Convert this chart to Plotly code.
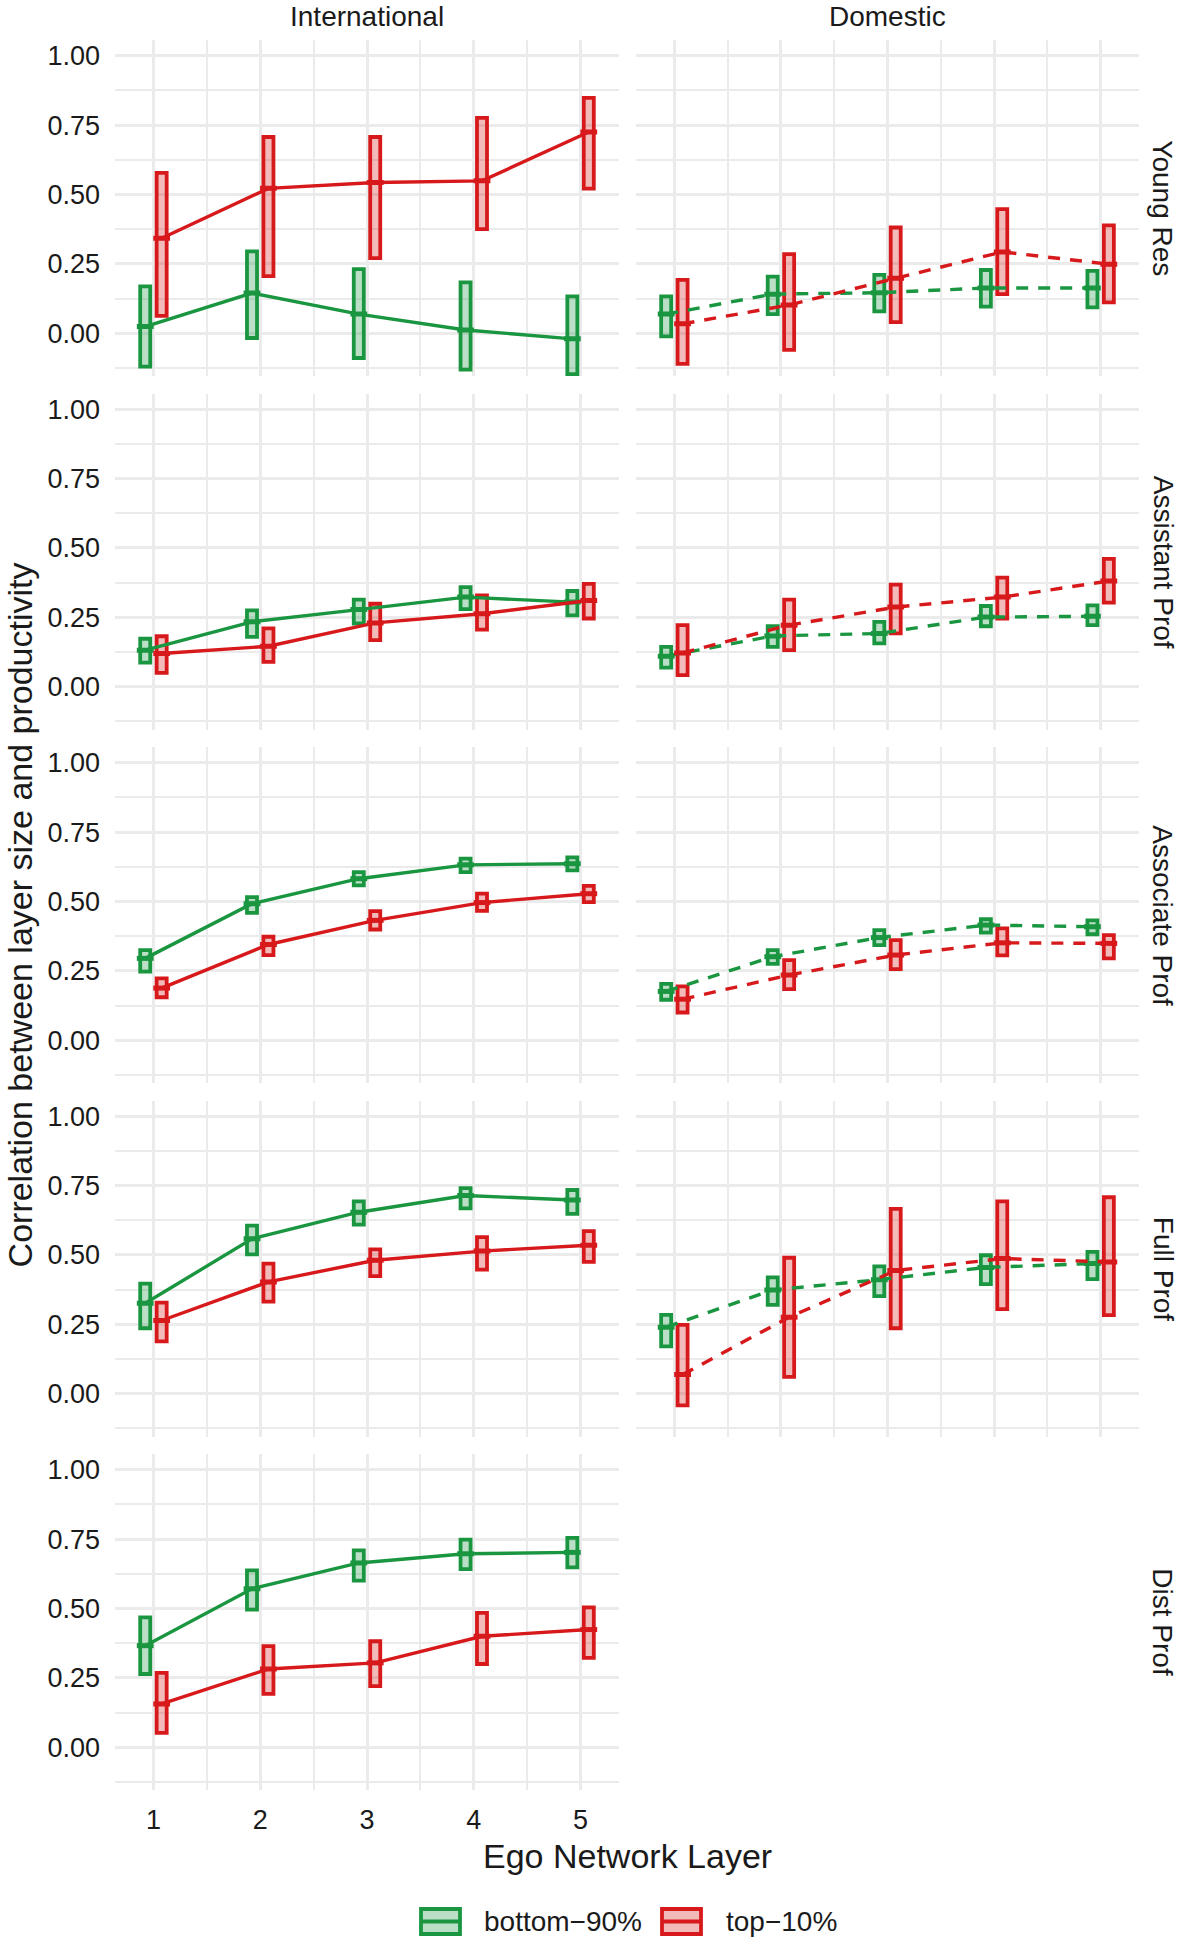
import plotly.graph_objects as go

# ---------------- data ----------------
layers = [1, 2, 3, 4, 5]
ranks = ["Young Res", "Assistant Prof", "Associate Prof", "Full Prof", "Dist Prof"]
scopes = ["International", "Domestic"]
groups = ["bottom−90%", "top−10%"]

# International, bottom-90% (rows = ranks, cols = layers)
int_bottom_mean = [[0.024, 0.145, 0.069, 0.012, -0.020],
                   [0.132, 0.234, 0.278, 0.323, 0.305],
                   [0.295, 0.492, 0.582, 0.632, 0.636],
                   [0.326, 0.558, 0.654, 0.714, 0.698],
                   [0.366, 0.571, 0.664, 0.697, 0.702]]
int_bottom_lo = [[-0.120, -0.017, -0.089, -0.131, -0.147],
                 [0.087, 0.180, 0.228, 0.280, 0.257],
                 [0.247, 0.459, 0.558, 0.606, 0.612],
                 [0.236, 0.502, 0.609, 0.668, 0.648],
                 [0.264, 0.496, 0.600, 0.642, 0.648]]
int_bottom_hi = [[0.169, 0.295, 0.231, 0.183, 0.133],
                 [0.173, 0.275, 0.314, 0.359, 0.345],
                 [0.325, 0.516, 0.606, 0.654, 0.659],
                 [0.397, 0.606, 0.693, 0.741, 0.734],
                 [0.468, 0.637, 0.709, 0.748, 0.754]]

# International, top-10%
int_top_mean = [[0.342, 0.522, 0.543, 0.549, 0.725],
                [0.120, 0.146, 0.230, 0.263, 0.311],
                [0.188, 0.345, 0.432, 0.496, 0.528],
                [0.264, 0.403, 0.481, 0.514, 0.535],
                [0.156, 0.282, 0.304, 0.400, 0.424]]
int_top_lo = [[0.063, 0.206, 0.271, 0.375, 0.521],
              [0.050, 0.090, 0.168, 0.206, 0.246],
              [0.155, 0.307, 0.399, 0.466, 0.498],
              [0.189, 0.332, 0.424, 0.447, 0.475],
              [0.052, 0.192, 0.220, 0.300, 0.322]]
int_top_hi = [[0.578, 0.707, 0.707, 0.776, 0.848],
              [0.182, 0.210, 0.299, 0.329, 0.371],
              [0.223, 0.373, 0.465, 0.528, 0.556],
              [0.328, 0.469, 0.520, 0.564, 0.586],
              [0.268, 0.364, 0.382, 0.484, 0.504]]

# Domestic, bottom-90% (no Dist Prof data)
dom_bottom_mean = [[0.069, 0.141, 0.146, 0.163, 0.163],
                   [0.110, 0.183, 0.192, 0.251, 0.254],
                   [0.176, 0.301, 0.370, 0.415, 0.409],
                   [0.240, 0.374, 0.411, 0.455, 0.469],
                   []]
dom_bottom_lo = [[-0.011, 0.069, 0.079, 0.096, 0.093],
                 [0.069, 0.144, 0.156, 0.218, 0.222],
                 [0.146, 0.275, 0.343, 0.388, 0.382],
                 [0.171, 0.320, 0.352, 0.395, 0.413],
                 []]
dom_bottom_hi = [[0.133, 0.204, 0.210, 0.228, 0.225],
                 [0.144, 0.218, 0.234, 0.291, 0.293],
                 [0.203, 0.325, 0.397, 0.436, 0.432],
                 [0.284, 0.419, 0.459, 0.499, 0.511],
                 []]

# Domestic, top-10%
dom_top_mean = [[0.034, 0.102, 0.198, 0.293, 0.249],
                [0.122, 0.222, 0.287, 0.323, 0.381],
                [0.148, 0.235, 0.307, 0.351, 0.349],
                [0.069, 0.276, 0.444, 0.487, 0.475],
                []]
dom_top_lo = [[-0.110, -0.060, 0.040, 0.141, 0.111],
              [0.042, 0.132, 0.192, 0.246, 0.303],
              [0.100, 0.184, 0.256, 0.306, 0.295],
              [-0.042, 0.061, 0.236, 0.305, 0.283],
              []]
dom_top_hi = [[0.192, 0.285, 0.381, 0.447, 0.389],
              [0.222, 0.314, 0.368, 0.393, 0.461],
              [0.194, 0.289, 0.361, 0.403, 0.379],
              [0.248, 0.490, 0.666, 0.693, 0.708],
              []]

y_tickvals = [0.0, 0.25, 0.5, 0.75, 1.0]
y_ticktext = ["0.00", "0.25", "0.50", "0.75", "1.00"]

# ---------------- style ----------------
FW, FH = 1184, 1940
FONT = "Liberation Sans, Arial, Helvetica, sans-serif"
TXT = "#1a1a1a"
GRID = "#ebebeb"
COLORS = ["#1a9641", "#d7191c"]
FILLS = ["rgba(26,150,65,0.3)", "rgba(215,25,28,0.3)"]
DODGE = [-0.077, 0.077]
BOXW = 0.094
X0 = [115, 636]
X1 = [619, 1139]
TOP0, PITCH, PH = 40.4, 353.5, 335.9
XR = [0.64, 5.36]
YR = [-0.155, 1.055]


def px(x):
    return x / FW


def py(y):
    return 1 - y / FH


data_sets = {
    (0, 0): (int_bottom_mean, int_bottom_lo, int_bottom_hi),
    (0, 1): (int_top_mean, int_top_lo, int_top_hi),
    (1, 0): (dom_bottom_mean, dom_bottom_lo, dom_bottom_hi),
    (1, 1): (dom_top_mean, dom_top_lo, dom_top_hi),
}

fig = go.Figure()
layout = dict(
    width=FW, height=FH, autosize=False,
    margin=dict(l=0, r=0, t=0, b=0, pad=0),
    paper_bgcolor="white", plot_bgcolor="white",
    barmode="overlay", showlegend=False,
    font=dict(family=FONT, color=TXT, size=27),
)

annotations = []
shapes = []

for r, rank in enumerate(ranks):
    top = TOP0 + PITCH * r
    ydom = [py(top + PH), py(top)]
    for c, scope in enumerate(scopes):
        k = r * 2 + c + 1
        xs = "" if k == 1 else str(k)
        layout["xaxis" + xs] = dict(
            domain=[px(X0[c]), px(X1[c])], anchor="y" + xs, range=XR,
            tickvals=layers, showticklabels=(r == len(ranks) - 1),
            showgrid=True, gridcolor=GRID, gridwidth=3, zeroline=False,
            showline=False, ticks="", ticklabelstandoff=11,
            tickfont=dict(size=27, color=TXT, family=FONT),
            minor=dict(tickvals=[1.5, 2.5, 3.5, 4.5], showgrid=True,
                       gridcolor=GRID, gridwidth=1.6),
        )
        layout["yaxis" + xs] = dict(
            domain=ydom, anchor="x" + xs, range=YR,
            tickvals=y_tickvals, ticktext=y_ticktext,
            showticklabels=(c == 0),
            showgrid=True, gridcolor=GRID, gridwidth=3, zeroline=False,
            showline=False, ticks="", ticklabelstandoff=14,
            tickfont=dict(size=27, color=TXT, family=FONT),
            minor=dict(tickvals=[-0.125, 0.125, 0.375, 0.625, 0.875],
                       showgrid=True, gridcolor=GRID, gridwidth=1.6),
        )
        # boxes (crossbar bodies)
        for g in range(2):
            mean, lo, hi = (a[r] for a in data_sets[(c, g)])
            if not mean:
                continue
            fig.add_trace(go.Bar(
                x=layers, base=lo, y=[h - l for h, l in zip(hi, lo)],
                width=BOXW, offset=DODGE[g] - BOXW / 2,
                marker=dict(color=FILLS[g], line=dict(color=COLORS[g], width=3.8)),
                name=groups[g], showlegend=False, hoverinfo="skip",
                xaxis="x" + xs, yaxis="y" + xs,
            ))
        # connecting lines and crossbar middles
        for g in range(2):
            mean, lo, hi = (a[r] for a in data_sets[(c, g)])
            if not mean:
                continue
            fig.add_trace(go.Scatter(
                x=[l + DODGE[g] for l in layers], y=mean,
                mode="lines+markers",
                line=dict(color=COLORS[g], width=3.4,
                          dash="solid" if c == 0 else "12px,10px"),
                marker=dict(symbol="line-ew", size=12,
                            line=dict(color=COLORS[g], width=5)),
                name=groups[g], showlegend=False,
                xaxis="x" + xs, yaxis="y" + xs,
            ))
    # row strip
    annotations.append(dict(
        text=rank, x=px(1163), y=py(top + PH / 2), xref="paper", yref="paper",
        showarrow=False, textangle=90, xanchor="center", yanchor="middle",
        font=dict(size=28, color=TXT, family=FONT),
    ))

# column strips
for c, scope in enumerate(scopes):
    annotations.append(dict(
        text=scope, x=px((X0[c] + X1[c]) / 2), y=py(16.5),
        xref="paper", yref="paper", showarrow=False,
        xanchor="center", yanchor="middle",
        font=dict(size=28, color=TXT, family=FONT),
    ))

# axis titles
annotations.append(dict(
    text="Correlation between layer size and productivity",
    x=px(20), y=py(915.4), xref="paper", yref="paper", showarrow=False,
    textangle=-90, xanchor="center", yanchor="middle",
    font=dict(size=34, color=TXT, family=FONT),
))
annotations.append(dict(
    text="Ego Network Layer", x=px(627), y=py(1856),
    xref="paper", yref="paper", showarrow=False,
    xanchor="center", yanchor="middle",
    font=dict(size=34, color=TXT, family=FONT),
))

# legend (keys drawn as crossbar glyphs)
key_x = [(421, 460), (662, 701)]
text_x = [482, 724]
ky0, ky1 = 1909, 1934
for g in range(2):
    xa, xb = key_x[g]
    shapes.append(dict(type="rect", xref="paper", yref="paper",
                       x0=px(xa), x1=px(xb), y0=py(ky1), y1=py(ky0),
                       fillcolor=FILLS[g], line=dict(color=COLORS[g], width=3.8)))
    shapes.append(dict(type="line", xref="paper", yref="paper",
                       x0=px(xa), x1=px(xb),
                       y0=py((ky0 + ky1) / 2), y1=py((ky0 + ky1) / 2),
                       line=dict(color=COLORS[g], width=3.8)))
    annotations.append(dict(
        text=groups[g], x=px(text_x[g]), y=py(1921.5),
        xref="paper", yref="paper", showarrow=False,
        xanchor="left", yanchor="middle",
        font=dict(size=28, color=TXT, family=FONT),
    ))

layout["annotations"] = annotations
layout["shapes"] = shapes
fig.update_layout(**layout)
fig.write_html(
    "out.html",
    config=dict(displayModeBar=False, displaylogo=False),
    post_script="document.body.style.margin='0px';document.body.style.overflow='hidden';",
)
